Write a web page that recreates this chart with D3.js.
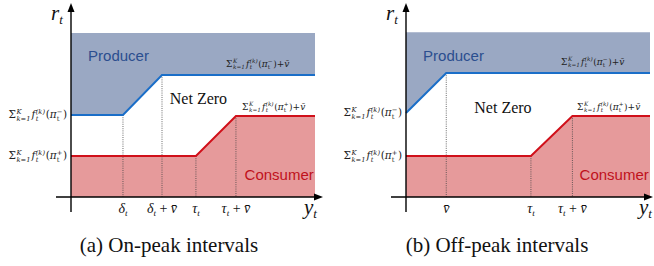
<!DOCTYPE html>
<html>
<head>
<meta charset="utf-8">
<script src="https://cdn.jsdelivr.net/npm/d3@7"></script>
<style>
  html, body { margin: 0; padding: 0; background: #fff; }
  svg { display: block; }
</style>
</head>
<body>
<svg id="chart" width="654" height="266"></svg>
<script>
// data in abstract units: x (quantity y_t) 0..10, y (price r_t) 0..10
const captions = ["(a) On-peak intervals", "(b) Off-peak intervals"];
const producerTop = [10, 10.05];
const blueX = [[0, 2.13, 3.73, 10], [0, 1.65, 10]];
const blueY = [[5.0, 5.0, 7.44, 7.44], [5.12, 7.56, 7.56]];
const redX = [[0, 5.12, 6.76, 10], [0, 5.12, 6.82, 10]];
const redY = [[2.5, 2.5, 4.94, 4.94], [2.5, 2.5, 4.94, 4.94]];
const tickX = [[2.13, 3.73, 5.12, 6.76], [1.65, 5.12, 6.82]];
const tickLabels = [
  [["δ"], ["δ", " + v̄"], ["τ"], ["τ", " + v̄"]],
  [["v̄"], ["τ"], ["τ", " + v̄"]]
];

const svg = d3.select("#chart");
const W = 244, H = 164;
const panelX = [71, 406];
const baseY = 197;

const mathFont = "Liberation Serif";
const labelFont = "DejaVu Serif";

// draws Σ_{k=1}^K f_t^{(k)}(π_t^s) [+ v̄] with measured pieces
function sumLabel(g, x, y, anchor, sign, plusV, size) {
  const lab = g.append("g").attr("font-family", labelFont).attr("fill", "#222");
  let cx = 0;
  const small = size * 0.64;
  const put = (txt, fs, dy, italic) => {
    const t = lab.append("text").attr("x", cx).attr("y", dy)
      .attr("font-size", fs).attr("font-style", italic ? "italic" : "normal").text(txt);
    return t.node().getComputedTextLength();
  };
  const stack = (sup, sub, italic) => {
    const a = put(sup, small, -size * 0.4, italic);
    const b = put(sub, small, size * 0.25, italic);
    cx += Math.max(a, b) + 0.6;
  };
  cx += put("Σ", size, 0, false) + 0.6;
  stack("K", "k=1", true);
  cx += 0.4;
  cx += put("f", size, 0, true) + 0.4;
  stack("(k)", "t", true);
  cx += put("(", size, 0, false);
  cx += put("π", size, 0, true);
  stack(sign, "t", false);
  cx += put(")", size, 0, false);
  if (plusV) { cx += put(" + ", size, 0, false); cx += put("v̄", size, 0, true); }
  const off = anchor === "end" ? -cx : 0;
  lab.attr("transform", `translate(${x + off},${y})`);
}

captions.forEach((cap, i) => {
  const x = d3.scaleLinear().domain([0, 10]).range([panelX[i], panelX[i] + W]);
  const y = d3.scaleLinear().domain([0, 10]).range([baseY, baseY - H]);
  const g = svg.append("g");

  const blue = blueX[i].map((v, j) => [v, blueY[i][j]]);
  const red = redX[i].map((v, j) => [v, redY[i][j]]);
  const blueAt = d3.scaleLinear().domain(blueX[i]).range(blueY[i]);
  const redAt = d3.scaleLinear().domain(redX[i]).range(redY[i]);

  // producer region
  const prodArea = d3.area().x(d => x(d[0])).y0(y(producerTop[i])).y1(d => y(d[1]));
  g.append("path").datum(blue).attr("d", prodArea).attr("fill", "#9aa8c3");
  // consumer region
  const consArea = d3.area().x(d => x(d[0])).y0(y(0)).y1(d => y(d[1]));
  g.append("path").datum(red).attr("d", consArea).attr("fill", "#e69a9b");

  // guide dotted lines
  tickX[i].forEach(t => {
    const onRed = red.some(p => Math.abs(p[0] - t) < 1e-6);
    const yTop = onRed ? redAt(t) : blueAt(t);
    g.append("line").attr("x1", x(t)).attr("x2", x(t)).attr("y1", y(yTop)).attr("y2", y(0))
      .attr("stroke", "#444").attr("stroke-width", 0.8).attr("stroke-dasharray", "1,1.2");
  });

  const line = d3.line().x(d => x(d[0])).y(d => y(d[1]));
  g.append("path").datum(blue).attr("d", line).attr("fill", "none")
    .attr("stroke", "#1a6ec8").attr("stroke-width", 2);
  g.append("path").datum(red).attr("d", line).attr("fill", "none")
    .attr("stroke", "#d0101a").attr("stroke-width", 2);

  // axes
  const x0 = x(0), y0 = y(0);
  g.append("line").attr("x1", x0).attr("x2", x0).attr("y1", 10).attr("y2", 212)
    .attr("stroke", "#000").attr("stroke-width", 1.4);
  g.append("path").attr("d", `M${x0 - 3.5},${12} L${x0},${3} L${x0 + 3.5},${12} Z`).attr("fill", "#000");
  const xEnd = i === 0 ? 323 : 653;
  g.append("line").attr("x1", x0 - 15).attr("x2", xEnd - 6).attr("y1", y0).attr("y2", y0)
    .attr("stroke", "#000").attr("stroke-width", 1.4);
  g.append("path").attr("d", `M${xEnd - 9},${y0 - 3.5} L${xEnd},${y0} L${xEnd - 9},${y0 + 3.5} Z`).attr("fill", "#000");

  // axis titles
  const rt = g.append("text").attr("x", x0 - 20).attr("y", 20).attr("font-family", mathFont)
    .attr("font-style", "italic").attr("font-size", 21).attr("fill", "#111");
  rt.append("tspan").text("r");
  rt.append("tspan").attr("font-size", 13).attr("dy", 4).text("t");
  const yt = g.append("text").attr("x", x(9.55)).attr("y", 214).attr("font-family", mathFont)
    .attr("font-style", "italic").attr("font-size", 21).attr("fill", "#111");
  yt.append("tspan").text("y");
  yt.append("tspan").attr("font-size", 13).attr("dy", 4).text("t");

  // tick labels
  tickX[i].forEach((t, j) => {
    const parts = tickLabels[i][j];
    const tx = g.append("text").attr("x", x(t)).attr("y", 213).attr("text-anchor", "middle")
      .attr("font-family", mathFont).attr("font-size", 14).attr("fill", "#111");
    if (parts[0] === "v̄") {
      tx.append("tspan").attr("font-style", "italic").text("v̄");
    } else {
      tx.append("tspan").attr("font-style", "italic").text(parts[0]);
      tx.append("tspan").attr("font-style", "italic").attr("font-size", 9).attr("dy", 3).text("t");
      if (parts[1]) {
        tx.append("tspan").attr("dy", -3).text(" + ");
        tx.append("tspan").attr("font-style", "italic").text("v̄");
      }
    }
  });

  // region names
  g.append("text").attr("x", x(0.7)).attr("y", y(8.3)).attr("font-family", "Liberation Sans")
    .attr("font-size", 15).attr("fill", "#2b4e8f").text("Producer");
  g.append("text").attr("x", i === 0 ? x(4.05) : x(2.8)).attr("y", i === 0 ? y(5.7) : y(5.1))
    .attr("font-family", mathFont).attr("font-size", 16).attr("fill", "#111").text("Net Zero");
  g.append("text").attr("x", x(9.95)).attr("y", y(1.05)).attr("text-anchor", "end")
    .attr("font-family", "Liberation Sans")
    .attr("font-size", 15).attr("fill", "#c0111b").text("Consumer");

  // level labels
  sumLabel(g, x0 - 4, y(blueY[i][0]) + 3, "end", "−", false, 10.5);
  sumLabel(g, x0 - 4, y(redY[i][0]) + 3, "end", "+", false, 10.5);
  sumLabel(g, x(8.95), y(blueY[i][blueY[i].length - 1]) - 8, "end", "−", true, 9);
  sumLabel(g, x(9.6), y(redY[i][redY[i].length - 1]) - 6, "end", "+", true, 9);

  // caption
  g.append("text").attr("x", i === 0 ? 169 : 497).attr("y", 252).attr("text-anchor", "middle")
    .attr("font-family", "Liberation Serif").attr("font-size", 21)
    .attr("fill", "#111").text(cap);
});
</script>
</body>
</html>
